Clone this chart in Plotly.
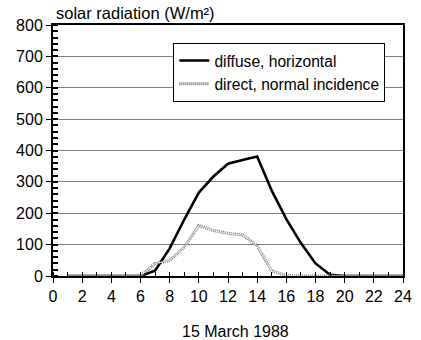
import plotly.graph_objects as go

# Hourly solar radiation, 15 March 1988 (W/m²)
hours = list(range(1, 25))
diffuse_horizontal = [0, 0, 0, 0, 0, 0, 17, 88, 180, 266, 317, 358,
                      370, 381, 272, 181, 105, 40, 4, 0, 0, 0, 0, 0]
direct_normal = [0, 0, 0, 0, 0, 0, 40, 49, 92, 161, 145, 136,
                 131, 96, 16, 2, 0, 0, 0, 0, 0, 0, 0, 0]

FONT = "Liberation Sans, Arial, sans-serif"

fig = go.Figure()

fig.add_trace(go.Scatter(
    x=hours, y=diffuse_horizontal, mode="lines",
    name="diffuse, horizontal",
    line=dict(color="black", width=2.6),
))
# patterned grey line: hatched dark edge with a light core
fig.add_trace(go.Scatter(
    x=hours, y=direct_normal, mode="lines",
    name="direct, normal incidence",
    line=dict(color="#6e6e6e", width=3, dash="1px,1px"),
))
fig.add_trace(go.Scatter(
    x=hours, y=direct_normal, mode="lines",
    showlegend=False, hoverinfo="skip",
    line=dict(color="#dcdcdc", width=1),
))

fig.update_layout(
    width=421, height=340,
    margin=dict(l=53, r=9, t=25, b=64),
    plot_bgcolor="white", paper_bgcolor="white",
    font=dict(family=FONT, size=16, color="black"),
    showlegend=True,
    legend=dict(
        x=0.344, y=0.929, xanchor="left", yanchor="top",
        bgcolor="white", bordercolor="black", borderwidth=1,
        font=dict(family=FONT, size=15.6, color="black"),
        tracegroupgap=0,
    ),
    xaxis=dict(
        range=[0, 24], tickmode="linear", tick0=0, dtick=2,
        ticks="outside", ticklen=5, tickwidth=1, tickcolor="black",
        showgrid=False, zeroline=False,
        showline=True, linecolor="black", linewidth=2, mirror=True,
        minor=dict(dtick=1, ticks="inside", ticklen=4, tickcolor="black", tickwidth=1),
        tickfont=dict(size=16),
    ),
    yaxis=dict(
        range=[0, 800], dtick=100,
        ticks="outside", ticklen=5, tickwidth=1, tickcolor="black",
        showgrid=True, gridcolor="#808080", gridwidth=1,
        zeroline=False,
        showline=True, linecolor="black", linewidth=2, mirror=True,
        minor=dict(dtick=20, ticks="inside", ticklen=5, tickcolor="black", tickwidth=1.5),
        tickfont=dict(size=16),
    ),
)

fig.add_annotation(text="solar radiation (W/m²)", xref="paper", yref="paper",
                   x=0.002, y=1.047, xanchor="left", yanchor="middle",
                   showarrow=False, font=dict(family=FONT, size=16.5))
fig.add_annotation(text="15 March 1988", xref="paper", yref="paper",
                   x=0.52, y=-0.22, xanchor="center", yanchor="middle",
                   showarrow=False, font=dict(family=FONT, size=16))

fig.write_html("out.html")
